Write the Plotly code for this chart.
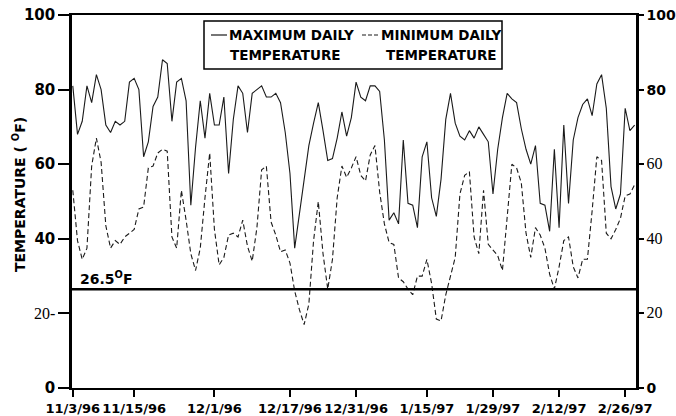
import pandas as pd
import plotly.graph_objects as go

# ---------------- data ----------------
start_date = "1996-11-01"
max_temp = [
    81, 68, 71.5, 81, 76.5, 84, 80, 70.5, 68.5, 71.5,
    70.5, 71.5, 82, 83, 80, 62, 66, 75.5, 78, 88,
    87, 71.5, 82, 83, 77, 49, 64.5, 77, 67, 79,
    70.5, 70.5, 78, 57.5, 72, 81, 79, 68.5, 79, 80,
    81, 78, 78, 79, 76.5, 68.5, 57.5, 37.5, 47, 56,
    65, 71, 76.5, 69, 61, 61.5, 67, 74, 67.5, 72.5,
    82, 78, 77, 81, 81, 79.5, 66.5, 45, 47, 44,
    66.5, 49.5, 49, 43, 62, 66, 51, 46, 56, 72,
    79, 71, 67.5, 66.5, 69, 67, 70, 68, 66, 52,
    64, 72.5, 79, 77.5, 76.5, 69.5, 64, 60, 65, 49.5,
    49, 42, 64, 43, 70.5, 49.5, 66.5, 72.5, 76, 77.5,
    73, 81.5, 84, 75, 54, 48, 52, 75, 69, 70.5,
]
min_temp = [
    53, 39.5, 34.5, 37.5, 59.5, 67, 60.5, 43.5, 37.5, 39.5,
    38.5, 40.5, 41.5, 42.5, 48, 48.5, 59, 59.5, 63, 64,
    63.5, 40.5, 37.5, 53, 45, 36, 31.5, 37.5, 51, 63,
    42.5, 33, 35, 41, 41.5, 40.5, 45, 38, 34, 43,
    58.5, 59.5, 44.5, 41, 36.5, 37, 33.5, 26, 21, 17,
    22.5, 39.5, 50, 36, 26.5, 34.5, 51, 59.5, 56.5, 59,
    62, 57, 55.5, 62.5, 65, 52.5, 44, 39, 38.5, 29.5,
    28.5, 26.5, 25, 30, 30, 34.5, 28, 18.5, 18, 25,
    30, 35, 52, 57, 58, 40.5, 36, 53, 38.5, 37,
    35.5, 31.5, 45, 60, 59, 55, 41.5, 35, 43, 41,
    37.5, 30.5, 26.5, 32.5, 39.5, 40.5, 32.5, 29.5, 34.5, 34.5,
    47.5, 62, 61, 41.5, 40, 42.5, 45.5, 51.5, 52, 54.5,
]
dates = pd.date_range(start_date, periods=len(max_temp), freq="D")

threshold = 26.5
x_range = ["1996-10-31 20:00", "1997-02-28 07:00"]
tick_dates = ["1996-11-01", "1996-11-14", "1996-12-01", "1996-12-17", "1996-12-31",
              "1997-01-15", "1997-01-29", "1997-02-12", "1997-02-26"]
tick_labels = ["11/3/96", "11/15/96", "12/1/96", "12/17/96", "12/31/96",
               "1/15/97", "1/29/97", "2/12/97", "2/26/97"]
y_ticks = [0, 20, 40, 60, 80, 100]
SERIF = '<span style="font-family:Liberation Serif;font-weight:normal;font-size:16px">{}</span>'
y_left_labels = ["0", SERIF.format("20-"), "40", "60", "80", "100"]
y_right_labels = ["0", SERIF.format("20"), SERIF.format("40"), SERIF.format("60"), "80", "100"]
y_title = "TEMPERATURE ( <sup>O</sup>F)"

# ---------------- figure ----------------
W, H = 676, 416
ML, MR, MT, MB = 72, 40, 15, 28
PW, PH = W - ML - MR, H - MT - MB


def pxx(x):
    return (x - ML) / PW


def pxy(y):
    return (H - MB - y) / PH


BOLD = "DejaVu Sans"
fig = go.Figure()
fig.add_trace(go.Scatter(x=dates, y=max_temp, mode="lines", name="MAXIMUM DAILY TEMPERATURE",
                         line=dict(color="#1a1a1a", width=1.1), showlegend=False))
fig.add_trace(go.Scatter(x=dates, y=min_temp, mode="lines", name="MINIMUM DAILY TEMPERATURE",
                         line=dict(color="#1a1a1a", width=1.1, dash="5px,3px"), showlegend=False))
fig.add_trace(go.Scatter(x=[], y=[], yaxis="y2", showlegend=False))

fig.add_shape(type="line", xref="paper", x0=0, x1=1, yref="y", y0=threshold, y1=threshold,
              line=dict(color="black", width=2.5))
fig.add_annotation(xref="paper", x=pxx(78), yref="y", y=threshold, xanchor="left", yanchor="bottom",
                   text="26.5<sup>O</sup>F", showarrow=False,
                   font=dict(family=BOLD, size=14, color="black", weight="bold"))

# y-axis title
fig.add_annotation(xref="paper", yref="paper", x=pxx(19), y=pxy(195), xanchor="center", yanchor="middle",
                   text=y_title, textangle=-90, showarrow=False,
                   font=dict(family=BOLD, size=14, color="black", weight="bold"))

# legend box
fig.add_shape(type="rect", xref="paper", yref="paper", x0=pxx(204), x1=pxx(502), y0=pxy(69), y1=pxy(21),
              line=dict(color="black", width=1.5), fillcolor="white", layer="above")
fig.add_shape(type="line", xref="paper", yref="paper", x0=pxx(211), x1=pxx(227), y0=pxy(35), y1=pxy(35),
              line=dict(color="#1a1a1a", width=1.2))
fig.add_shape(type="line", xref="paper", yref="paper", x0=pxx(362), x1=pxx(379), y0=pxy(35), y1=pxy(35),
              line=dict(color="#1a1a1a", width=1.2, dash="4px,2px"))
for txt, x, y in [("MAXIMUM DAILY", 227, 35), ("TEMPERATURE", 228, 55),
                  ("MINIMUM DAILY", 379, 35), ("TEMPERATURE", 384, 55)]:
    fig.add_annotation(xref="paper", yref="paper", x=pxx(x), y=pxy(y), xanchor="left", yanchor="middle",
                       text=txt, showarrow=False,
                       font=dict(family=BOLD, size=13.5, color="black", weight="bold"))

fig.update_layout(
    width=W, height=H, margin=dict(l=ML, r=MR, t=MT, b=MB, autoexpand=False),
    paper_bgcolor="white", plot_bgcolor="white", showlegend=False,
    xaxis=dict(type="date", range=x_range, showgrid=False, zeroline=False, automargin=False,
               showline=True, linecolor="black", linewidth=2, mirror=True,
               ticks="outside", ticklen=7, tickwidth=2, tickcolor="black",
               tickvals=tick_dates, ticktext=tick_labels,
               tickfont=dict(family=BOLD, size=13, color="black", weight="bold")),
    yaxis=dict(range=[0, 100], showgrid=False, zeroline=False, automargin=False,
               showline=True, linecolor="black", linewidth=2.5,
               ticks="outside", ticklen=11, tickwidth=2, tickcolor="black",
               tickvals=y_ticks, ticktext=y_left_labels,
               tickfont=dict(family=BOLD, size=15, color="black", weight="bold")),
    yaxis2=dict(range=[0, 100], overlaying="y", side="right", showgrid=False, zeroline=False,
                automargin=False,
                showline=True, linecolor="black", linewidth=2.5,
                ticks="outside", ticklen=5, tickwidth=2, tickcolor="black",
                tickvals=y_ticks, ticktext=y_right_labels,
                tickfont=dict(family=BOLD, size=14, color="black", weight="bold")),
)

fig.write_html("out.html", config={"displayModeBar": False},
               post_script="document.body.style.margin='0';document.body.style.overflow='hidden';")
